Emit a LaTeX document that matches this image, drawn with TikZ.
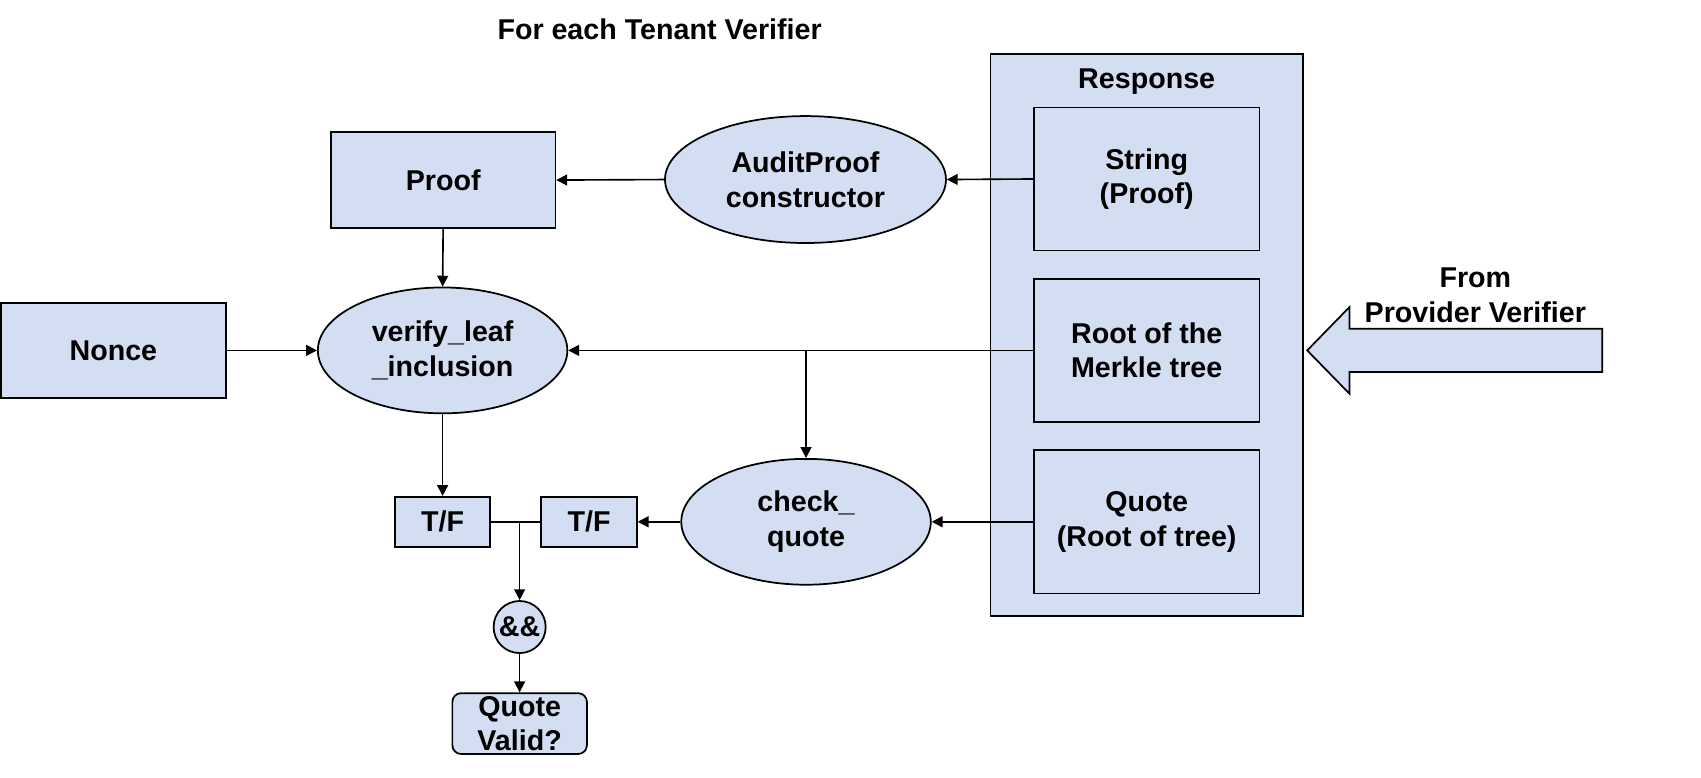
\documentclass[tikz,border=0pt]{standalone}
\usepackage{fontspec}
\setmainfont{Liberation Sans}
\usetikzlibrary{shapes.geometric,arrows.meta}
\definecolor{boxfill}{RGB}{212,222,243}
\tikzset{
  base/.style={draw=black, fill=boxfill, line width=0.8pt, inner sep=0pt, align=center,
    font=\fontsize{13.2pt}{16pt}\selectfont\bfseries},
  rect/.style={base, rectangle},
  oval/.style={base, ellipse},
  conn/.style={line width=0.75pt, draw=black},
  arr/.style={conn, -{Triangle[length=5pt,width=5pt]}},
  lbl/.style={inner sep=0pt, align=center, font=\fontsize{13.2pt}{16pt}\selectfont\bfseries}
}
\begin{document}
\begin{tikzpicture}[x=0.5pt,y=-0.5pt]
\useasboundingbox (0,0) rectangle (1568,716.3);
% title
\node[lbl] (title) at (608,27) {For each Tenant Verifier};
% response container
\node[rect, minimum width=144pt, minimum height=259pt] (resp) at (1057,309) {};
\node[lbl] (resplbl) at (1057,75) {Response};
\node[rect, minimum width=104pt, minimum height=66pt] (str) at (1057,165) {String\\(Proof)};
\node[rect, minimum width=104pt, minimum height=66pt] (root) at (1057,323) {Root of the\\Merkle tree};
\node[rect, minimum width=104pt, minimum height=66pt] (quote) at (1057,481) {Quote\\(Root of tree)};
% left side
\node[rect, minimum width=103.5pt, minimum height=44pt] (proof) at (408.5,166) {Proof};
\node[oval, minimum width=129.5pt, minimum height=58.5pt] (audit) at (742.5,165.5) {AuditProof\\constructor};
\node[rect, minimum width=103.5pt, minimum height=44pt] (nonce) at (104.5,323) {Nonce};
\node[oval, minimum width=115pt, minimum height=58pt] (verify) at (408,323) {verify\_leaf\\\_inclusion};
\node[oval, minimum width=115pt, minimum height=58pt] (check) at (743,481) {check\_\\quote};
\node[rect, minimum width=44pt, minimum height=23pt] (tfl) at (408,481) {T/F};
\node[rect, minimum width=44pt, minimum height=23pt] (tfr) at (543,481) {T/F};
\node[base, circle, minimum size=24pt] (and) at (479,578) {\&\&};
\node[rect, rounded corners=4pt, minimum width=62pt, minimum height=28pt] (valid) at (479,667) {Quote\\Valid?};
% big arrow from provider
\draw[line width=0.8pt, fill=boxfill] (1205,323) -- (1244,283) -- (1244,303) -- (1477,303)
  -- (1477,343) -- (1244,343) -- (1244,363) -- cycle;
\node[lbl] (from) at (1360,272) {From\\Provider Verifier};
% connectors
\draw[arr] (str.west) -- (audit.east);
\draw[arr] (audit.west) -- (proof.east);
\draw[arr] (proof.south) -- (verify.north);
\draw[arr] (nonce.east) -- (verify.west);
\draw[arr] (root.west) -- (verify.east);
\coordinate (j1) at (743,323);
\draw[arr] (j1) -- (check.north);
\draw[arr] (quote.west) -- (check.east);
\draw[arr] (check.west) -- (tfr.east);
\draw[arr] (verify.south) -- (tfl.north);
\draw[conn] (tfl.east) -- (tfr.west);
\coordinate (j2) at (479,481);
\draw[arr] (j2) -- (and.north);
\draw[arr] (and.south) -- (valid.north);
\end{tikzpicture}
\end{document}
